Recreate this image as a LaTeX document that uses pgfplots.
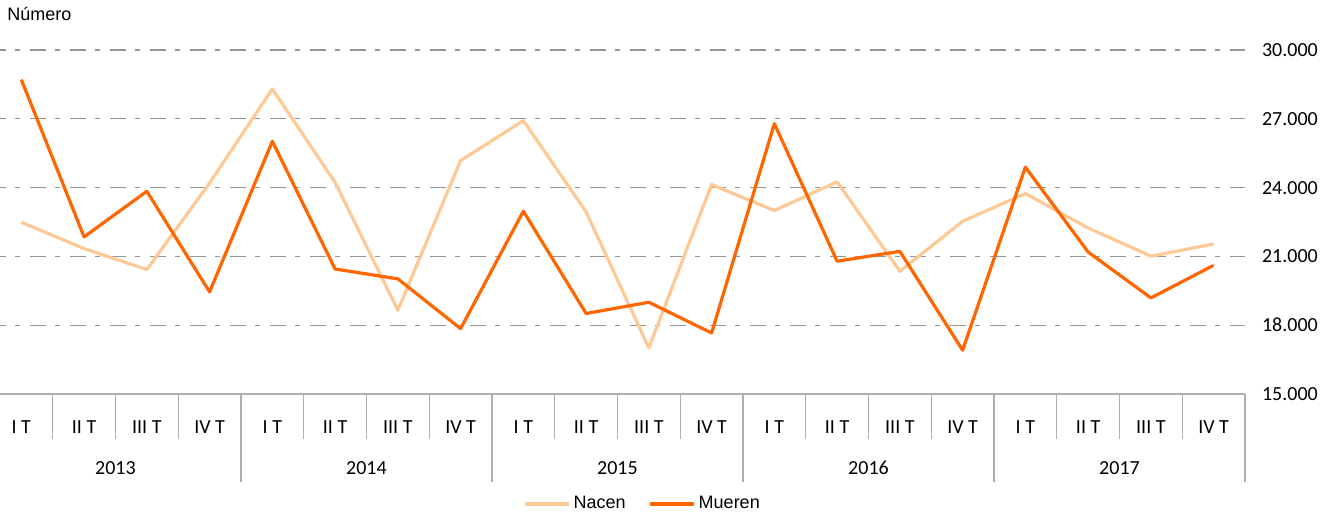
\documentclass[border=0pt]{standalone}
\usepackage{fontspec}
\setmainfont{Carlito}
\newfontfamily\arial{Liberation Sans}
\usepackage{pgfplots}
\pgfplotsset{compat=1.18}
\definecolor{nacen}{RGB}{255,201,150}
\definecolor{mueren}{RGB}{255,102,0}
\definecolor{gridgray}{RGB}{150,150,150}
\definecolor{sepgray}{RGB}{175,175,175}

\begin{document}
\begin{tikzpicture}
\begin{axis}[
  scale only axis, width=622.5pt, height=172pt,
  xmin=-0.34, xmax=19.5, ymin=15000, ymax=30000,
  axis x line*=bottom, axis y line*=right,
  x axis line style={draw=sepgray, line width=0.6pt},
  y axis line style={draw=none},
  tick style={draw=none}, major tick length=0pt,
  xtick={0,...,19},
  xticklabels={I T, II T, III T, IV T, I T, II T, III T, IV T, I T, II T, III T, IV T,
               I T, II T, III T, IV T, I T, II T, III T, IV T},
  x tick label style={anchor=center, yshift=-16.5pt, font=\fontsize{10}{12}\selectfont},
  ytick={15000,18000,...,30000},
  scaled y ticks=false,
  /pgf/number format/assume math mode=true,
  yticklabel style={anchor=west, xshift=5pt, font=\fontsize{10}{12}\selectfont,
                    /pgf/number format/1000 sep={.}},
  ymajorgrids,
  grid style={gridgray, line width=0.6pt, dash pattern=on 8pt off 4.5pt on 2.5pt off 5pt, dash phase=5pt},
  clip=false,
  legend columns=2,
  legend style={at={(0.5165,-0.32)}, anchor=center, draw=none, fill=none,
                font=\arial\fontsize{9}{11}\selectfont,
                nodes={inner sep=1.5pt},
                /tikz/every even column/.append style={column sep=10pt},
                /tikz/every odd column/.append style={column sep=0pt}},
  legend image code/.code={\draw[#1] (0pt,0pt) -- (22pt,0pt);},
]
\addplot[nacen, line width=1.6pt, line join=round] coordinates {
  (0,22490) (1,21340) (2,20425) (3,24200) (4,28300) (5,24230) (6,18650) (7,25180)
  (8,26920) (9,22940) (10,17010) (11,24130) (12,23000) (13,24250) (14,20350) (15,22530)
  (16,23740) (17,22240) (18,21010) (19,21540)};
\addplot[mueren, line width=1.6pt, line join=round] coordinates {
  (0,28707) (1,21850) (2,23840) (3,19450) (4,26020) (5,20450) (6,20020) (7,17850)
  (8,22970) (9,18510) (10,19000) (11,17660) (12,26790) (13,20790) (14,21220) (15,16910)
  (16,24890) (17,21190) (18,19190) (19,20610)};
\legend{Nacen, Mueren}

% separadores de trimestres y de años
\pgfplotsinvokeforeach{0.5,1.5,2.5,4.5,5.5,6.5,8.5,9.5,10.5,12.5,13.5,14.5,16.5,17.5,18.5}{
  \draw[sepgray, line width=0.6pt] (axis cs:#1,15000) -- ++(0pt,-22.5pt);}
\pgfplotsinvokeforeach{3.5,7.5,11.5,15.5,19.5}{
  \draw[sepgray, line width=0.6pt] (axis cs:#1,15000) -- ++(0pt,-44pt);}
\node[font=\fontsize{10}{12}\selectfont] at (axis cs:1.5,15000) [yshift=-37pt] {2013};
\node[font=\fontsize{10}{12}\selectfont] at (axis cs:5.5,15000) [yshift=-37pt] {2014};
\node[font=\fontsize{10}{12}\selectfont] at (axis cs:9.5,15000) [yshift=-37pt] {2015};
\node[font=\fontsize{10}{12}\selectfont] at (axis cs:13.5,15000) [yshift=-37pt] {2016};
\node[font=\fontsize{10}{12}\selectfont] at (axis cs:17.5,15000) [yshift=-37pt] {2017};
\end{axis}
\node[anchor=base west, font=\arial\fontsize{9}{11}\selectfont, inner sep=0pt] at (3.5pt,186.5pt) {Número};
\pgfresetboundingbox
\useasboundingbox (0pt,-59.5pt) rectangle (661pt,197pt);
\end{tikzpicture}
\end{document}
